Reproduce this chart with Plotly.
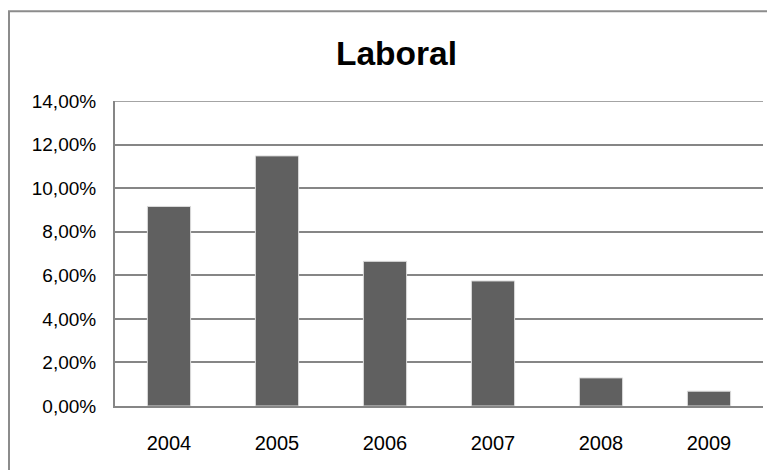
import plotly.graph_objects as go

years = ["2004", "2005", "2006", "2007", "2008", "2009"]
laboral = [0.0916, 0.1148, 0.0664, 0.0574, 0.0129, 0.0068]
y_ticks = [0, 0.02, 0.04, 0.06, 0.08, 0.10, 0.12, 0.14]
title_text = "Laboral"

# page body has an 8px margin; figure sized to fill the rest of the window
W, H = 767, 462
L, R, T, B = 107, 12, 93, 63.5
pw, ph = W - L - R, H - T - B

fig = go.Figure()
fig.add_trace(go.Bar(
    x=years, y=laboral,
    marker=dict(color="#606060", line=dict(color="#dcdcdc", width=1)),
    width=0.4,
))

# outer chart border (extends past the right/bottom edge as in the reference)
bx0 = (1 - L) / pw
by1 = (H - B - 3) / ph
fig.add_shape(type="rect", xref="paper", yref="paper",
              x0=bx0, x1=1.2, y0=-0.5, y1=by1,
              line=dict(color="#8c8c8c", width=2), fillcolor="rgba(0,0,0,0)", layer="below")
# top gridline at 14%
fig.add_shape(type="line", xref="paper", yref="y", x0=0, x1=1, y0=y_ticks[-1], y1=y_ticks[-1],
              line=dict(color="#868686", width=1.5), layer="below")

fig.update_layout(
    width=W, height=H,
    margin=dict(l=L, r=R, t=T, b=B, pad=0),
    paper_bgcolor="white", plot_bgcolor="white",
    separators=",.",
    showlegend=False,
    bargap=0.61,
    font=dict(family="Liberation Sans, Arial, sans-serif", color="#000000", size=19),
    title=dict(text="<b>" + title_text + "</b>", x=388.5 / W, xanchor="center", xref="container",
               y=1 - 45 / H, yanchor="middle", yref="container",
               font=dict(size=33.5, family="Liberation Sans, Arial, sans-serif", color="#000000")),
    xaxis=dict(showgrid=False, showline=True, linecolor="#868686", linewidth=2,
               ticks="", ticklabelstandoff=18, tickfont=dict(size=20)),
    yaxis=dict(range=[0, 0.14], tickvals=y_ticks, tickformat=".2%",
               showgrid=True, gridcolor="#868686", gridwidth=1.5,
               showline=True, linecolor="#868686", linewidth=2,
               zeroline=False, ticks="", ticklabelstandoff=13, tickfont=dict(size=19)),
)

fig.write_html("out.html")
